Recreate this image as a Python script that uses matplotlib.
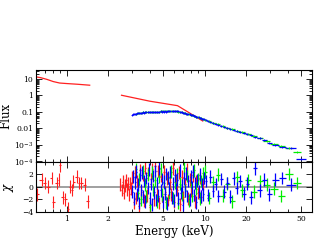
import matplotlib
matplotlib.use("Agg")
import matplotlib.pyplot as plt
from matplotlib.ticker import FixedLocator, FixedFormatter, NullFormatter
import numpy as np

plt.rcParams["font.family"] = "DejaVu Serif"
plt.rcParams["mathtext.fontset"] = "dejavuserif"
plt.rcParams["xtick.major.size"] = 4
plt.rcParams["ytick.major.size"] = 4
plt.rcParams["xtick.minor.size"] = 2
plt.rcParams["ytick.minor.size"] = 2
plt.rcParams["axes.linewidth"] = 0.8

# red: low energy model (line only)
red_lo_E = [0.6, 0.65, 0.72, 0.8, 0.89, 1.0, 1.2, 1.47]
red_lo_F = [13.5, 12.0, 9.5, 7.0, 5.7, 5.3, 4.8, 4.2]
# red: high energy model
red_hi_E = [2.5, 4.0, 6.36, 8.0, 9.7]
red_hi_F = [1.03, 0.45, 0.24, 0.075, 0.028]

# red residuals
red_res_lo_E = [0.61, 0.66, 0.70, 0.73, 0.78, 0.80, 0.85, 0.875, 0.90, 0.935,
                0.98, 1.02, 1.05, 1.09, 1.12, 1.18, 1.22, 1.28, 1.35, 1.42]
red_res_lo = [-1.2, 1.1, 0.6, 0.0, 1.4, -2.4, 0.6, 1.1, 3.4, -1.7,
              -2.0, -3.5, 0.0, -0.5, 0.8, 1.6, 0.6, 0.6, 0.3, -2.3]
red_res_hi_E = [2.45, 2.50, 2.55, 2.60, 2.65, 2.70, 2.75, 2.80, 2.85, 2.90,
                2.95, 3.00, 3.06, 3.12, 3.19, 3.26, 3.33, 3.40, 3.48, 3.56,
                3.64, 3.72, 3.81, 3.90, 3.99, 4.08, 4.18, 4.28, 4.38, 4.49,
                4.60, 4.71, 4.83, 4.95, 5.07, 5.20, 5.33, 5.46, 5.60, 5.74,
                5.89, 6.04, 6.19, 6.35, 6.51, 6.68, 6.85, 7.03, 7.21, 7.40,
                7.60, 7.80, 8.01, 8.23, 8.46, 8.70, 8.95, 9.21, 9.48, 9.76]
red_res_hi = [0.3, -0.5, 0.8, -1.0, 0.2, 1.0, -0.4, 0.5, -1.2, 0.6,
              -0.3, 1.5, -2.5, 2.2, -1.8, 0.9, -3.0, 2.6, -0.8, 1.9,
              -2.2, 3.0, -1.4, 2.1, -3.2, 1.2, 2.8, -2.0, 3.2, -1.1,
              2.5, -2.6, 1.7, -1.5, 2.4, -0.9, 1.3, -2.1, 0.7, -1.2,
              2.9, -2.4, 1.0, -0.5, 2.2, -2.8, 1.6, -1.7, 0.4, 2.7,
              -1.9, 1.1, -0.6, 1.8, -2.3, 0.9, -1.0, 1.4, -1.6, 0.5]

# blue data
blue_E = [3.00, 3.05, 3.10, 3.15, 3.20, 3.25, 3.30, 3.36, 3.42, 3.48,
          3.54, 3.60, 3.66, 3.72, 3.79, 3.86, 3.93, 4.00, 4.07, 4.14,
          4.22, 4.30, 4.38, 4.46, 4.54, 4.62, 4.71, 4.80, 4.89, 4.98,
          5.07, 5.16, 5.26, 5.36, 5.46, 5.56, 5.66, 5.77, 5.88, 5.99,
          6.10, 6.22, 6.34, 6.46, 6.58, 6.70, 6.83, 6.96, 7.09, 7.22,
          7.36, 7.50, 7.64, 7.78, 7.93, 8.08, 8.23, 8.39, 8.55, 8.71,
          8.88, 9.05, 9.22, 9.40, 9.58, 9.77, 9.96,
          10.2, 10.6, 11.0, 11.5, 12.0, 12.6, 13.2, 13.9, 14.6, 15.4,
          16.2, 17.1, 18.1, 19.2, 20.4, 21.8, 23.3, 25.0, 27.0, 29.5,
          32.5, 36.5, 42.0, 50.0]
blue_F = [0.068, 0.071, 0.074, 0.077, 0.079, 0.082, 0.083, 0.086, 0.087, 0.090,
          0.089, 0.093, 0.092, 0.095, 0.094, 0.098, 0.096, 0.100, 0.098, 0.102,
          0.100, 0.104, 0.101, 0.105, 0.102, 0.106, 0.103, 0.107, 0.104, 0.108,
          0.105, 0.109, 0.106, 0.110, 0.107, 0.111, 0.108, 0.112, 0.108, 0.111,
          0.109, 0.112, 0.108, 0.107, 0.103, 0.099, 0.095, 0.091, 0.087, 0.084,
          0.080, 0.077, 0.074, 0.070, 0.067, 0.064, 0.061, 0.058, 0.055, 0.052,
          0.049, 0.046, 0.044, 0.041, 0.039, 0.037, 0.035,
          0.031, 0.027, 0.024, 0.021, 0.019, 0.017, 0.0145, 0.0125, 0.0108, 0.0095,
          0.0083, 0.0071, 0.0060, 0.0051, 0.0044, 0.0038, 0.0031, 0.0025, 0.0019, 0.0013,
          0.00095, 0.00075, 0.00062, 0.00014]
blue_res = [-0.8, 1.6, -1.9, 0.7, 2.4, -1.2, 0.3, -2.6, 1.9, -0.5,
            2.2, -1.6, 0.9, -2.3, 1.4, -0.2, 2.7, -1.8, 0.4, -2.8,
            1.7, -0.9, 2.5, -2.1, 0.6, -1.4, 2.9, -0.6, 1.2, -2.4,
            0.8, -1.1, 2.0, -2.7, 1.5, -0.3, 2.3, -1.7, 0.5, -2.2,
            1.8, -0.4, 1.1, -1.9, 2.6, -1.0, 0.2, -2.9, 1.3, -0.7,
            2.1, -1.5, 0.9, -2.0, 1.6, -0.1, 2.4, -1.3, 0.6, -2.5,
            1.0, -0.8, 1.9, -1.6, 0.4, -1.2, 1.4,
            0.9, -1.3, 1.6, -0.7, 0.4, -1.5, 1.2, -0.8, 0.6, -1.6,
            1.3, -0.2, 0.9, -1.1, 0.5, -1.7, 2.9, -0.6, 1.1, -1.2,
            1.1, 1.4, 0.3, -5.0]

# green data
green_E = [3.18, 3.27, 3.37, 3.47, 3.57, 3.68, 3.79, 3.90, 4.02, 4.14,
           4.26, 4.39, 4.52, 4.66, 4.80, 4.94, 5.09, 5.24, 5.40, 5.56,
           5.73, 5.90, 6.08, 6.26, 6.45, 6.64, 6.84, 7.05, 7.26, 7.48,
           7.70, 7.93, 8.17, 8.42, 8.67, 8.93, 9.20, 9.48, 9.76,
           10.1, 10.8, 11.6, 12.5, 13.5, 14.6, 15.8, 17.2, 18.8, 20.6,
           22.7, 25.2, 28.2, 31.8, 36.0, 41.0, 47.0]
green_F = [0.080, 0.084, 0.087, 0.090, 0.093, 0.095, 0.096, 0.098, 0.100, 0.101,
           0.103, 0.104, 0.105, 0.106, 0.107, 0.108, 0.108, 0.109, 0.110, 0.110,
           0.111, 0.111, 0.110, 0.109, 0.106, 0.101, 0.095, 0.089, 0.083, 0.077,
           0.072, 0.066, 0.061, 0.056, 0.051, 0.047, 0.043, 0.040, 0.037,
           0.033, 0.027, 0.022, 0.018, 0.0145, 0.0112, 0.0092, 0.0073, 0.0058, 0.0046,
           0.0036, 0.0027, 0.0017, 0.0011, 0.00080, 0.00060, 0.00039]
green_res = [2.8, -1.0, 1.2, -2.0, 2.5, 0.3, -1.6, 1.9, -2.9, 2.2,
             -0.4, 1.0, -2.3, 1.6, 2.8, -1.2, 0.6, -2.5, 1.4, -0.9,
             2.4, -1.8, 0.7, 1.9, -2.6, 0.5, -1.3, 3.0, -0.6, 1.7,
             -2.2, 0.8, -1.5, 2.6, -0.3, 1.2, -1.9, 0.9, 2.1,
             2.4, -1.8, 0.7, 1.9, -1.4, 0.5, -2.3, 1.5, -0.6, 1.0,
             -0.8, 0.9, 0.3, -0.3, -1.5, 2.0, 0.6]

flux_ticks = [10, 1, 0.1, 0.01, 1e-3, 1e-4]
flux_labels = ["10", "1", "0.1", "0.01", "$10^{-3}$", "$10^{-4}$"]
e_ticks = [1, 2, 5, 10, 20, 50]
e_labels = ["1", "2", "5", "10", "20", "50"]
e_minor = [0.6, 0.7, 0.8, 0.9, 3, 4, 6, 7, 8, 9, 30, 40, 60]


def half_bins(e):
    # horizontal bars: geometric midpoints between neighbouring channels
    e = np.asarray(e)
    mid = np.sqrt(e[1:] * e[:-1])
    lo = np.concatenate([[e[0] ** 2 / mid[0]], mid])
    hi = np.concatenate([mid, [e[-1] ** 2 / mid[-1]]])
    return [e - lo, hi - e]


RED, GREEN, BLUE = "#ff2020", "#00ee00", "#0000ff"

fig = plt.figure(figsize=(3.14, 2.52), dpi=100)
ax1 = fig.add_axes([0.1146, 0.357, 0.879, 0.365])
ax2 = fig.add_axes([0.1146, 0.159, 0.879, 0.198])

# axes set up first, data afterwards
ax1.set_yscale("log")
ax1.set_ylim(9e-5, 35)
ax1.set_yticks(flux_ticks)
ax1.set_yticklabels(flux_labels)
ax1.set_ylabel("Flux", fontsize=8.5, labelpad=1)
ax2.set_ylim(-4, 3.9)
ax2.set_yticks([-4, -2, 0, 2])
ax2.set_ylabel(r"$\chi$", fontsize=8.5, labelpad=4)
ax2.set_xlabel("Energy (keV)", fontsize=8.5, labelpad=2)
for ax in (ax1, ax2):
    ax.set_xscale("log")
    ax.set_xlim(0.6, 60)
    ax.xaxis.set_major_locator(FixedLocator(e_ticks))
    ax.xaxis.set_minor_locator(FixedLocator(e_minor))
    ax.xaxis.set_major_formatter(FixedFormatter(e_labels))
    ax.xaxis.set_minor_formatter(NullFormatter())
    ax.tick_params(which="both", direction="in", top=True, right=True,
                   labelsize=5.5, pad=2, width=0.6)
    ax.set_autoscale_on(False)
ax1.tick_params(axis="x", labelbottom=False)

# top: flux
ax1.plot(red_lo_E, red_lo_F, color=RED, lw=0.9)
ax1.plot(red_hi_E, red_hi_F, color=RED, lw=0.9)
ax1.errorbar(green_E, green_F, xerr=half_bins(green_E), fmt="+", ms=1.8, mew=0.6,
             color=GREEN, elinewidth=0.9)
ax1.errorbar(blue_E, blue_F, xerr=half_bins(blue_E), fmt="+", ms=1.8, mew=0.6,
             color=BLUE, elinewidth=0.9)

# bottom: residuals
ax2.axhline(0, color="0.6", lw=1.3, zorder=0)
ax2.errorbar(red_res_lo_E, red_res_lo, yerr=1, xerr=half_bins(red_res_lo_E), fmt="none",
             ecolor=RED, elinewidth=0.8)
ax2.errorbar(red_res_hi_E, red_res_hi, yerr=1, xerr=half_bins(red_res_hi_E), fmt="none",
             ecolor=RED, elinewidth=0.9)
ax2.errorbar(green_E, green_res, yerr=1, xerr=half_bins(green_E), fmt="none",
             ecolor=GREEN, elinewidth=0.9)
ax2.errorbar(blue_E, blue_res, yerr=1, xerr=half_bins(blue_E), fmt="none",
             ecolor=BLUE, elinewidth=0.9)

fig.savefig("out.png", dpi=100)
